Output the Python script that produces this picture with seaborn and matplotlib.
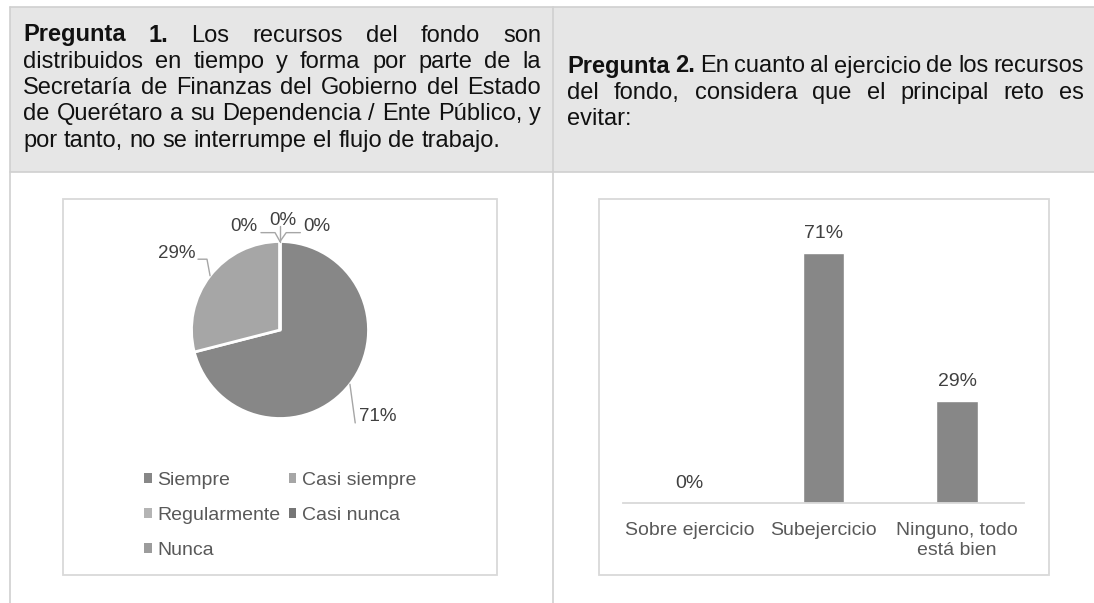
import numpy as np
import pandas as pd
import matplotlib
matplotlib.use('Agg')
import matplotlib.pyplot as plt
import matplotlib.patches as mpatches
import seaborn as sns

# ---- data ----
pie_labels = ['Siempre', 'Casi siempre', 'Regularmente', 'Casi nunca', 'Nunca']
pie_values = [71, 29, 0, 0, 0]
pie_colors = ['#878787', '#a6a6a6', '#b4b4b4', '#767676', '#9c9c9c']

bar_cats = ['Sobre ejercicio', 'Subejercicio', 'Ninguno, todo\nestá bien']
bar_values = [0, 71, 29]

q1_bold = 'Pregunta 1.'
q1_lines = ['Pregunta 1. Los recursos del fondo son',
            'distribuidos en tiempo y forma por parte de la',
            'Secretaría de Finanzas del Gobierno del Estado',
            'de Querétaro a su Dependencia / Ente Público, y',
            'por tanto, no se interrumpe el flujo de trabajo.']
q2_bold = 'Pregunta 2.'
q2_lines = ['Pregunta 2. En cuanto al ejercicio de los recursos',
            'del fondo, considera que el principal reto es',
            'evitar:']

W, H = 1094, 603
HF = 17       # header font
CF = 14       # chart font

sns.set_theme(style='white')
plt.rcParams['font.family'] = ['Liberation Sans', 'DejaVu Sans']

fig = plt.figure(figsize=(W / 100, H / 100), dpi=100)
fig.patch.set_facecolor('white')


def px_axes(x0, y0, x1, y1, **kw):
    return fig.add_axes([x0 / W, 1 - y1 / H, (x1 - x0) / W, (y1 - y0) / H], **kw)


# background layer in pixel coords
bg = px_axes(0, 0, W, H, zorder=0)
bg.set_xlim(0, W)
bg.set_ylim(H, 0)
bg.axis('off')

line_c = '#d0d0d0'
bg.add_patch(mpatches.Rectangle((10, 7), W - 10, 165, facecolor='#e6e6e6', edgecolor='none'))
bg.plot([10, W], [7, 7], color=line_c, lw=1.2)
bg.plot([10, W], [172, 172], color=line_c, lw=1.2)
bg.plot([10, 10], [7, H], color=line_c, lw=1.2)
bg.plot([553, 553], [7, H], color=line_c, lw=1.2)

# chart frames
for x0, x1 in [(63, 497), (599, 1049)]:
    bg.add_patch(mpatches.Rectangle((x0, 199), x1 - x0, 376, facecolor='white',
                                    edgecolor='#d9d9d9', lw=1.3))

fig.canvas.draw()
rend = fig.canvas.get_renderer()


def draw_par(lines, bold, x0, x1, y0, dy):
    # justified paragraph, last line left aligned
    nb = len(bold.split(' '))
    k = 0
    for i, line in enumerate(lines):
        words = line.split(' ')
        arts = []
        for w in words:
            arts.append(bg.text(0, 0, w, fontsize=HF, va='baseline', ha='left', color='#111111',
                                fontweight='bold' if k < nb else 'normal'))
            k += 1
        widths = [t.get_window_extent(rend).width for t in arts]
        if i == len(lines) - 1 or len(words) == 1:
            gap = HF * 0.278 * 100 / 72
        else:
            gap = (x1 - x0 - sum(widths)) / (len(words) - 1)
        x = x0
        for t, w in zip(arts, widths):
            t.set_position((x, y0 + i * dy + 6.5))
            x += w + gap


draw_par(q1_lines, q1_bold, 23, 541, 35, 26.3)
draw_par(q2_lines, q2_bold, 567, 1084, 66, 26.3)

# ---- pie ----
cx, cy, r = 280, 330, 88.5
ax_pie = px_axes(cx - r, cy - r, cx + r, cy + r, zorder=2)
ax_pie.patch.set_alpha(0)
wedges, _ = ax_pie.pie(pie_values, colors=pie_colors, startangle=90, counterclock=False,
                       wedgeprops=dict(edgecolor='white', linewidth=2))
ax_pie.set_xlim(-1, 1)
ax_pie.set_ylim(-1, 1)

# label anchors from wedge mid angles
lab_c = '#404040'
lead_c = '#a6a6a6'
lab_layout = [
    dict(path=[(0.85, -1.05)], tx=0.89, ty=-0.98, ha='left'),
    dict(path=[(-0.825, 0.80), (-0.927, 0.80)], tx=-0.96, ty=0.87, ha='right'),
    dict(path=[(-0.056, 1.10), (-0.215, 1.10)], tx=-0.26, ty=1.17, ha='right'),
    dict(path=[(0.0, 1.17)], tx=0.03, ty=1.24, ha='center'),
    dict(path=[(0.07, 1.10), (0.23, 1.10)], tx=0.26, ty=1.17, ha='left'),
]
for wdg, val, lay in zip(wedges, pie_values, lab_layout):
    mid = np.deg2rad((wdg.theta1 + wdg.theta2) / 2)
    pts = [(np.cos(mid), np.sin(mid))] + lay['path']
    xs, ys = zip(*pts)
    ax_pie.plot(xs, ys, color=lead_c, lw=1, clip_on=False)
    ax_pie.text(lay['tx'], lay['ty'], f'{val}%', ha=lay['ha'], va='center',
                fontsize=13.5, color=lab_c, clip_on=False)

# row-wise legend order for a 2-column legend
order = [0, 2, 4, 1, 3]
handles = [mpatches.Patch(facecolor=pie_colors[i], edgecolor='none') for i in order]
leg = fig.legend(handles, [pie_labels[i] for i in order], ncol=2, frameon=False,
                 fontsize=CF, labelcolor='#595959', handlelength=0.4, handleheight=0.4,
                 handletextpad=0.3, columnspacing=0.4, labelspacing=0.93,
                 loc='upper left', bbox_to_anchor=(144 / W, 1 - 472 / H), borderpad=0,
                 borderaxespad=0)

# ---- bars ----
df = pd.DataFrame({'cat': bar_cats, 'val': bar_values})
ax_bar = px_axes(623, 221, 1024, 503, zorder=2)
ax_bar.patch.set_alpha(0)
sns.barplot(data=df, x='cat', y='val', color='#878787', width=0.31, saturation=1, ax=ax_bar)
ax_bar.set_ylim(0, 80)
ax_bar.set_xlim(-0.5, 2.5)
for c in ax_bar.containers:
    ax_bar.bar_label(c, labels=[f'{v}%' for v in bar_values], padding=8,
                     fontsize=CF, color=lab_c)
ax_bar.set_xlabel('')
ax_bar.set_ylabel('')
ax_bar.set_yticks([])
sns.despine(ax=ax_bar, left=True)
ax_bar.spines['bottom'].set_color('#d9d9d9')
ax_bar.spines['bottom'].set_linewidth(1.3)
ax_bar.tick_params(axis='x', length=0, pad=13.5, labelsize=CF, labelcolor='#595959')
for t in ax_bar.get_xticklabels():
    t.set_linespacing(1.25)

fig.savefig('out.png', dpi=100)
